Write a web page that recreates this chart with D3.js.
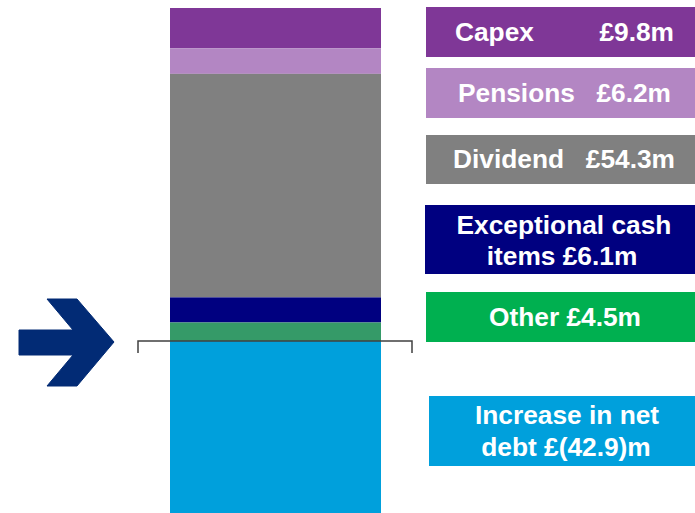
<!DOCTYPE html>
<html><head><meta charset="utf-8">
<script src="https://cdn.jsdelivr.net/npm/d3@7"></script>
<style>html,body{margin:0;padding:0;background:#fff;overflow:hidden}</style>
</head><body>
<svg id="chart" width="695" height="513"></svg>
<script>
const categories = ["Capex","Pensions","Dividend","Exceptional cash items","Other","Increase in net debt"];
const values = [9.8, 6.2, 54.3, 6.1, 4.5, 42.9];
const barColors = ["#7f3797","#b386c3","#808080","#000080","#359a68","#00a0dc"];
const boxColors = ["#7f3797","#b386c3","#808080","#000080","#00b050","#00a0dc"];
const labelLines = [["Capex","£9.8m"],["Pensions","£6.2m"],["Dividend","£54.3m"],["Exceptional cash","items £6.1m"],["Other £4.5m"],["Increase in net","debt £(42.9)m"]];

const svg = d3.select("#chart");
const total = d3.sum(values);
const y = d3.scaleLinear().domain([0,total]).range([8, 517.6]);
const x = d3.scaleBand().domain(["bar"]).range([170,381]).padding(0);

let acc = 0;
const stack = values.map((v,i)=>{const s={cat:categories[i],v,i,y0:acc,y1:acc+v};acc+=v;return s;});

svg.selectAll("rect.seg").data(stack).enter().append("rect")
  .attr("class","seg")
  .attr("x", x("bar")).attr("width", x.bandwidth())
  .attr("y", d=>y(d.y0)).attr("height", d=>y(d.y1)-y(d.y0))
  .attr("fill", d=>barColors[d.i]);

// bracket at boundary between outflows and net debt
const by = y(d3.sum(values.slice(0,5)));
svg.append("path")
  .attr("d", `M138,${by+12}V${by}H412V${by+12}`)
  .attr("fill","none").attr("stroke","#404040").attr("stroke-width",1.5);

// arrow
const ay = by + 1;
svg.append("path")
  .attr("d", `M19,${ay-12}H73L47,${ay-43}H77L114,${ay}L77,${ay+44}H47L73,${ay+13}H19Z`)
  .attr("fill","#022b75").attr("stroke","#022b75").attr("stroke-width",1).attr("stroke-linejoin","round");

// legend boxes
const boxes = [
  {x:426,y:7,w:269,h:50},
  {x:426,y:68,w:269,h:50},
  {x:426,y:135,w:269,h:49},
  {x:425,y:205,w:270,h:69},
  {x:426,y:292,w:269,h:50},
  {x:429,y:396,w:266,h:70}
];
const font = "'Liberation Sans', Arial, sans-serif";
boxes.forEach((b,i)=>{
  svg.append("rect").attr("x",b.x).attr("y",b.y).attr("width",b.w).attr("height",b.h).attr("fill",boxColors[i]);
});
function txt(t,xx,yy,anchor){
  svg.append("text").attr("x",xx).attr("y",yy).attr("text-anchor",anchor)
    .attr("font-family",font).attr("font-weight","bold").attr("font-size",26.3)
    .attr("fill","#fff").text(t);
}
txt(labelLines[0][0],455,41,"start"); txt(labelLines[0][1],674,41,"end");
txt(labelLines[1][0],458,102,"start"); txt(labelLines[1][1],671,102,"end");
txt(labelLines[2][0],453,168,"start"); txt(labelLines[2][1],675,168,"end");
txt(labelLines[3][0],564,234,"middle"); txt(labelLines[3][1],562,265,"middle");
txt(labelLines[4][0],565,326,"middle");
txt(labelLines[5][0],567,424,"middle"); txt(labelLines[5][1],566,456,"middle");
</script>
</body></html>
